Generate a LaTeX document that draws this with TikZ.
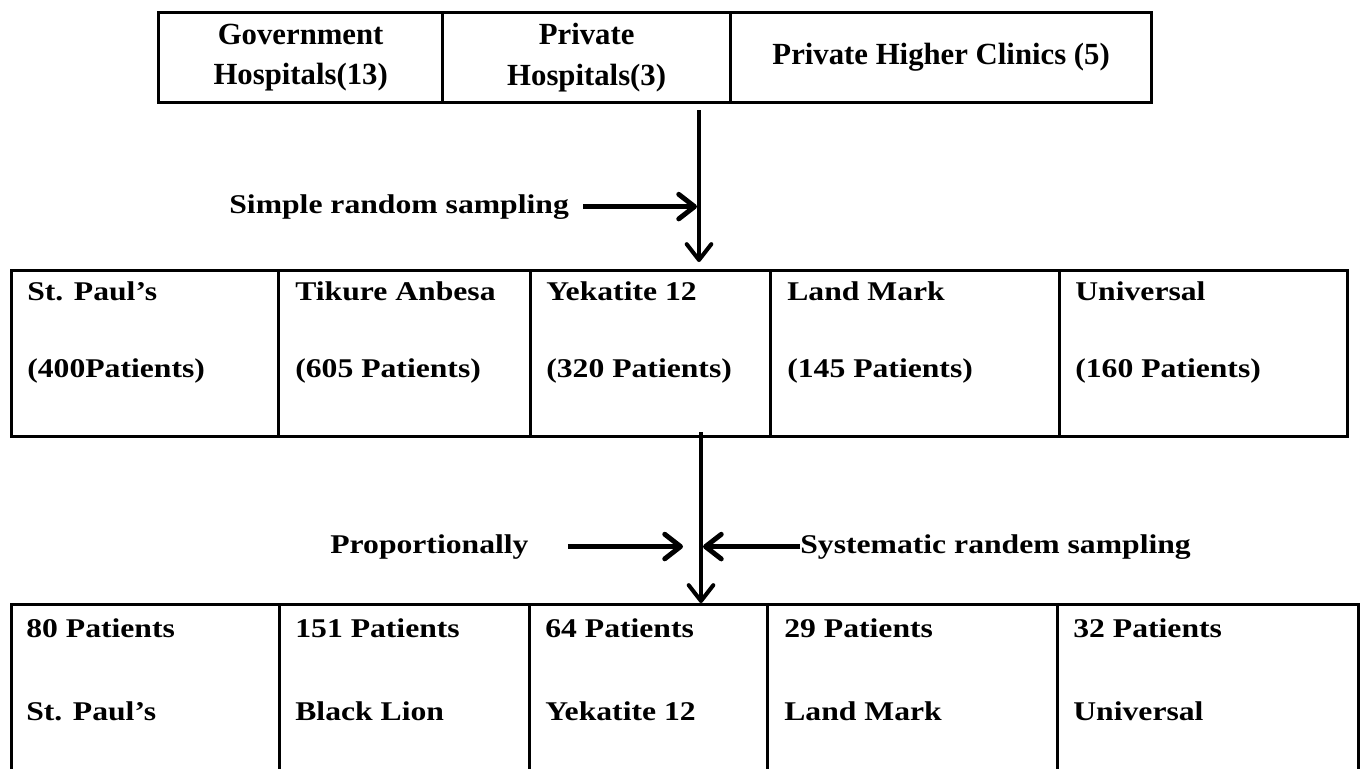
\documentclass[tikz,border=0pt]{standalone}
\usepackage{fontspec}
\setmainfont{Liberation Serif}[FakeStretch=1.17]
\newfontfamily\headfont{Liberation Serif}
\usetikzlibrary{arrows.meta}

\begin{document}
\begin{tikzpicture}[
  x=0.02cm, y=-0.02cm,
  font=\fontsize{15.4}{18}\selectfont\bfseries,
  head/.style={draw, line width=1.9pt, anchor=north west, minimum height=1.8cm,
    inner sep=0pt, align=center, font=\headfont\fontsize{17.5}{23}\selectfont\bfseries},
  cell/.style={draw, line width=1.8pt, anchor=north west, inner sep=0pt},
  mid/.style={cell, minimum height=3.32cm},
  low/.style={cell, minimum height=3.6cm},
  txt/.style={anchor=base west, inner sep=0pt},
  flow/.style={-{Straight Barb[length=9pt, width=14pt, round]}, line width=2.3pt},
  side/.style={-{Straight Barb[length=9pt, width=14pt, round]}, line width=2.8pt},
]
  \useasboundingbox (0,0) rectangle (1362,768);
  \clip (0,0) rectangle (1362,768);

  % Facility types
  \node[head, minimum width=5.68cm] (gov) at (157,11) {Government\\Hospitals(13)};
  \node[head, minimum width=5.76cm] (priv) at (441,11) {Private\\Hospitals(3)};
  \node[head, minimum width=8.42cm] (clin) at (729,11) {Private Higher Clinics (5)};

  % Selected facilities
  \node[mid, minimum width=5.34cm] (paul) at (10,269) {};
  \node[mid, minimum width=5.04cm] (tikur) at (277,269) {};
  \node[mid, minimum width=4.80cm] (yek) at (529,269) {};
  \node[mid, minimum width=5.78cm] (land) at (769,269) {};
  \node[mid, minimum width=5.76cm] (univ) at (1058,269) {};

  \node[txt] (paulA) at (27,300) {St. Paul’s};
  \node[txt] (paulB) at (27,377) {(400Patients)};
  \node[txt] (tikurA) at (295,300) {Tikure Anbesa};
  \node[txt] (tikurB) at (295,377) {(605 Patients)};
  \node[txt] (yekA) at (546,300) {Yekatite 12};
  \node[txt] (yekB) at (546,377) {(320 Patients)};
  \node[txt] (landA) at (787,300) {Land Mark};
  \node[txt] (landB) at (787,377) {(145 Patients)};
  \node[txt] (univA) at (1075,300) {Universal};
  \node[txt] (univB) at (1075,377) {(160 Patients)};

  % Sample per facility (bottom edge is cut off)
  \node[low, minimum width=5.36cm] (pauls) at (10,603) {};
  \node[low, minimum width=5.00cm] (tikurs) at (278,603) {};
  \node[low, minimum width=4.76cm] (yeks) at (528,603) {};
  \node[low, minimum width=5.80cm] (lands) at (766,603) {};
  \node[low, minimum width=6.02cm] (univs) at (1056,603) {};

  \node[txt] (paulsA) at (26,637) {80 Patients};
  \node[txt] (paulsB) at (26,720) {St. Paul’s};
  \node[txt] (tikursA) at (295,637) {151 Patients};
  \node[txt] (tikursB) at (295,720) {Black Lion};
  \node[txt] (yeksA) at (545,637) {64 Patients};
  \node[txt] (yeksB) at (545,720) {Yekatite 12};
  \node[txt] (landsA) at (784,637) {29 Patients};
  \node[txt] (landsB) at (784,720) {Land Mark};
  \node[txt] (univsA) at (1073,637) {32 Patients};
  \node[txt] (univsB) at (1073,720) {Universal};

  % Sampling steps
  \coordinate (s1) at (699,110);
  \coordinate (s2) at (701,432);
  \draw[flow, shorten >=0.14cm] (s1) -- (s1 |- yek.north);
  \draw[flow] (s2) -- (s2 |- yeks.north);

  \node[txt] (srs) at (229,213) {Simple random sampling};
  \draw[side, shorten >=0.04cm] ([xshift=0.28cm]srs.east) -- (srs.east -| s1);

  \node[txt] (prop) at (330,553) {Proportionally};
  \draw[side] ([xshift=0.78cm]prop.east) -- ([xshift=-0.36cm]prop.east -| s2);
  \node[txt] (sys) at (800,553) {Systematic randem sampling};
  \draw[side] (sys.west) -- ([xshift=0.04cm]sys.west -| s2);

\end{tikzpicture}
\end{document}
